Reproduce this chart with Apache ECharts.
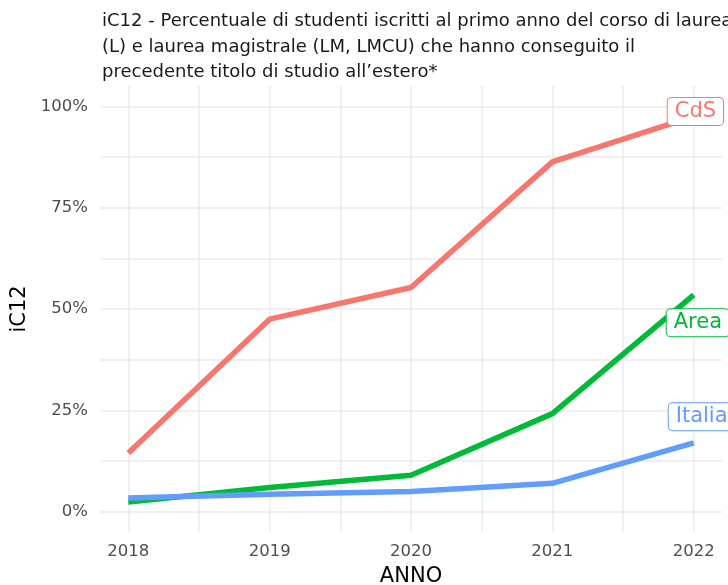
<!DOCTYPE html>
<html><head><meta charset="utf-8">
<script src="https://cdn.jsdelivr.net/npm/echarts@6/dist/echarts.min.js"></script>
<style>html,body{margin:0;padding:0;background:#fff}#c{width:728px;height:585px}</style>
</head><body><div id="c"></div>
<script>
const years = [2018, 2019, 2020, 2021, 2022];
const cds = [14.5, 47.5, 55.3, 86.3, 97.5];
const area = [2.4, 6.0, 9.0, 24.2, 53.5];
const italia = [3.4, 4.3, 5.0, 7.0, 17.0];
const yTickLabels = [0, 25, 50, 75, 100];
const seriesNames = ['CdS', 'Area', 'Italia'];
const colors = ['#F8766D', '#00BA38', '#619CFF'];
const labelOffsets = [[-26, -5], [-27, 28], [-25, -26]];
const titleLines = [
  'iC12 - Percentuale di studenti iscritti al primo anno del corso di laurea',
  '(L) e laurea magistrale (LM, LMCU) che hanno conseguito il',
  'precedente titolo di studio all\u2019estero*'
];

const xGrid = [];
for (let i = 0; i < years.length; i++) { xGrid.push(years[i]); if (i < years.length - 1) xGrid.push(years[i] + 0.5); }
const yGrid = [];
for (let v = 0; v <= 100; v += 12.5) yGrid.push(v);

const font = 'DejaVu Sans, Verdana, sans-serif';
const dataSets = [cds, area, italia];
const series = dataSets.map((d, i) => {
  const last = d.length - 1;
  return {
    name: seriesNames[i], type: 'line', symbol: 'none', showSymbol: false,
    lineStyle: { color: colors[i], width: 5.5, cap: 'butt', join: 'round' },
    itemStyle: { color: colors[i] },
    data: d.map((v, k) => [years[k], v]),
    markPoint: {
      symbol: 'circle', symbolSize: 0, silent: true, animation: false,
      data: [{
        coord: [years[last], d[last]],
        label: {
          show: true, position: 'inside', formatter: seriesNames[i],
          align: 'left', verticalAlign: 'middle',
          offset: labelOffsets[i],
          color: colors[i], fontSize: 21, fontFamily: font,
          backgroundColor: '#fff', borderColor: colors[i], borderWidth: 1,
          borderRadius: 4, padding: [3, 7, 3, 7]
        }
      }]
    }
  };
});

const chart = echarts.init(document.getElementById('c'), null, { renderer: 'canvas' });
chart.setOption({
  animation: false,
  backgroundColor: '#fff',
  title: {
    text: titleLines.join('\n'), left: 97, top: 4,
    textStyle: { fontSize: 18, fontWeight: 'normal', color: '#1a1a1a', fontFamily: font, lineHeight: 25.5 }
  },
  grid: { left: 100, right: 6, top: 86, bottom: 53, containLabel: false, outerBoundsMode: 'none' },
  xAxis: {
    type: 'value', min: 2017.8, max: 2022.2,
    name: 'ANNO', nameLocation: 'middle', nameGap: 34,
    nameTextStyle: { fontSize: 21, color: '#000', fontFamily: font },
    axisLine: { show: false }, axisTick: { show: false, customValues: xGrid },
    axisLabel: { customValues: years, margin: 11, fontSize: 16.5, color: '#4d4d4d', fontFamily: font, formatter: v => String(v) },
    splitLine: { show: true, lineStyle: { color: '#ebebeb', width: 1.5 } }
  },
  yAxis: {
    type: 'value', min: -5, max: 105,
    name: 'iC12', nameLocation: 'middle', nameGap: 66, nameRotate: 90,
    nameTextStyle: { fontSize: 21, color: '#000', fontFamily: font },
    axisLine: { show: false }, axisTick: { show: false, customValues: yGrid },
    axisLabel: { customValues: yTickLabels, margin: 12, fontSize: 16.5, color: '#4d4d4d', fontFamily: font, formatter: v => v + '%' },
    splitLine: { show: true, lineStyle: { color: '#ebebeb', width: 1.5 } }
  },
  series: series
});
</script></body></html>
